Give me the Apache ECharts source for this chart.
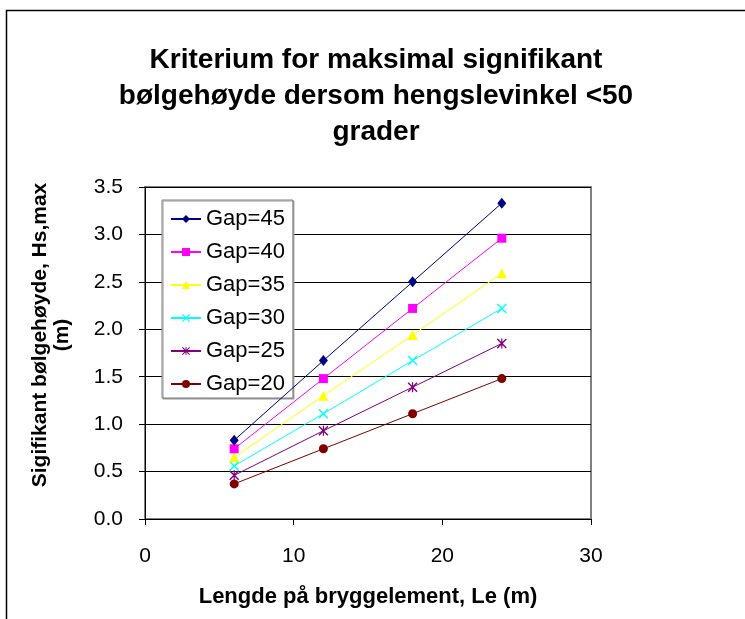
<!DOCTYPE html>
<html>
<head>
<meta charset="utf-8">
<script src="https://cdn.jsdelivr.net/npm/echarts@6/dist/echarts.min.js"></script>
<style>
  html, body { margin: 0; padding: 0; background: #fff; }
  #chart { width: 745px; height: 619px; }
</style>
</head>
<body>
<div id="chart"></div>
<script>
// lengde på bryggelement (m)
const lengths = [6, 12, 18, 24]
const seriesNames = ['Gap=45', 'Gap=40', 'Gap=35', 'Gap=30', 'Gap=25', 'Gap=20']
const gap45 = [0.83, 1.67, 2.50, 3.33]
const gap40 = [0.74, 1.48, 2.22, 2.96]
const gap35 = [0.65, 1.30, 1.94, 2.59]
const gap30 = [0.56, 1.11, 1.67, 2.22]
const gap25 = [0.46, 0.93, 1.39, 1.85]
const gap20 = [0.37, 0.74, 1.11, 1.48]
const seriesValues = [gap45, gap40, gap35, gap30, gap25, gap20]

const colors = ['#000080', '#ff00ff', '#ffff00', '#00ffff', '#800080', '#800000']
// x og stjerne som path, resten innebygde symboler
const crossPath = 'path://M0,1 L1,0 L5,4 L9,0 L10,1 L6,5 L10,9 L9,10 L5,6 L1,10 L0,9 L4,5 Z'
const starPath = 'path://M0,1 L1,0 L5,4 L9,0 L10,1 L6,5 L10,9 L9,10 L5,6 L1,10 L0,9 L4,5 Z M4.4,0 L5.6,0 L5.6,10 L4.4,10 Z'
const symbols = ['diamond', 'rect', 'triangle', crossPath, starPath, 'circle']
const symbolSizes = [[9, 11], 9, 10, 10, 10, 9]

const font = 'Arial, "Liberation Sans", sans-serif'

const chart = echarts.init(document.getElementById('chart'))
const option = {
  animation: false,
  backgroundColor: '#fff',
  grid: {
    left: 145,
    right: 154,
    top: 187,
    bottom: 100,
    show: true,
    borderColor: '#808080',
    borderWidth: 2
  },
  legend: {
    orient: 'vertical',
    left: 162,
    top: 200,
    padding: [8, 8, 3, 8],
    itemGap: 11,
    itemWidth: 30,
    itemHeight: 10,
    backgroundColor: '#fff',
    borderColor: '#808080',
    borderWidth: 1,
    shadowColor: '#999',
    shadowOffsetX: 1,
    shadowOffsetY: 1,
    textStyle: { fontFamily: font, fontSize: 22, color: '#000' },
    data: seriesNames
  },
  xAxis: {
    type: 'value',
    min: 0,
    max: 30,
    interval: 10,
    axisLine: { lineStyle: { color: '#000', width: 1 } },
    axisTick: { show: true, length: 6, lineStyle: { color: '#000' } },
    axisLabel: { margin: 27, fontFamily: font, fontSize: 21, color: '#000' },
    splitLine: { show: false }
  },
  yAxis: {
    type: 'value',
    min: 0,
    max: 3.5,
    interval: 0.5,
    axisLine: { show: true, lineStyle: { color: '#000', width: 1 } },
    axisTick: { show: true, length: 6, lineStyle: { color: '#000' } },
    axisLabel: {
      margin: 22,
      fontFamily: font,
      fontSize: 21,
      color: '#000',
      formatter: v => v.toFixed(1)
    },
    splitLine: { show: true, lineStyle: { color: '#000', width: 1 } }
  },
  graphic: [
    {
      type: 'rect',
      silent: true,
      z: -1,
      shape: { x: 6.5, y: 10.5, width: 900, height: 800 },
      style: { fill: 'none', stroke: '#000', lineWidth: 1.5 }
    },
    {
      type: 'text',
      x: 376,
      y: 96,
      style: {
        text: 'Kriterium for maksimal signifikant\nbølgehøyde dersom hengslevinkel <50\ngrader',
        font: 'bold 28px ' + font,
        lineHeight: 36,
        fill: '#000',
        align: 'center',
        verticalAlign: 'middle'
      }
    },
    {
      type: 'text',
      x: 368,
      y: 597,
      style: {
        text: 'Lengde på bryggelement, Le (m)',
        font: 'bold 22px ' + font,
        fill: '#000',
        align: 'center',
        verticalAlign: 'middle'
      }
    },
    {
      type: 'text',
      x: 51,
      y: 335,
      rotation: Math.PI / 2,
      style: {
        text: 'Sigifikant bølgehøyde, Hs,max\n(m)',
        font: 'bold 21px ' + font,
        lineHeight: 22,
        fill: '#000',
        align: 'center',
        verticalAlign: 'middle'
      }
    }
  ],
  series: seriesNames.map((name, i) => ({
    name: name,
    type: 'line',
    data: lengths.map((x, j) => [x, seriesValues[i][j]]),
    symbol: symbols[i],
    symbolSize: symbolSizes[i],
    showAllSymbol: true,
    lineStyle: { color: colors[i], width: 1 },
    itemStyle: { color: colors[i] },
    z: 10 - i
  }))
}
chart.setOption(option)
</script>
</body>
</html>
